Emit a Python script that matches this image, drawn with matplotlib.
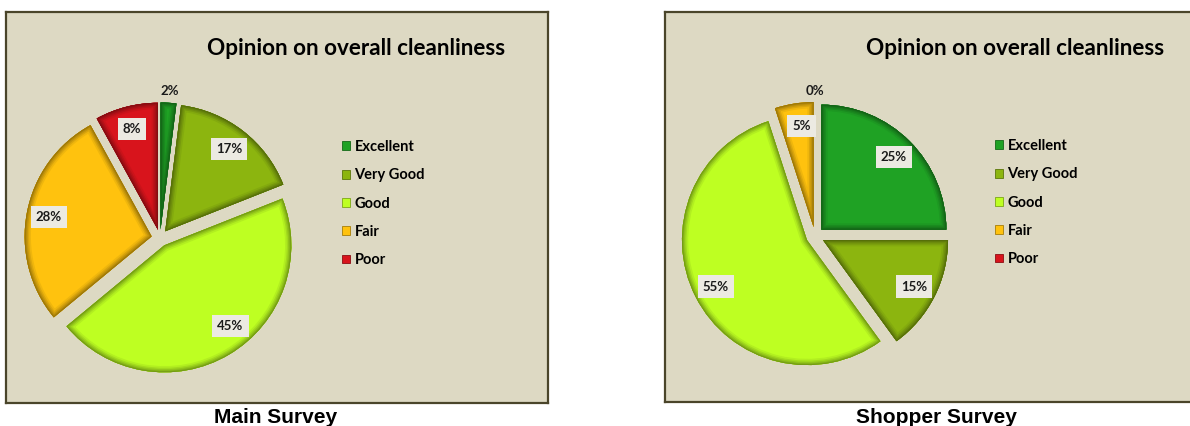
import matplotlib
matplotlib.use("Agg")
import matplotlib.pyplot as plt
from matplotlib.patches import PathPatch, Patch
from matplotlib.colors import to_rgb
import numpy as np

# ---- data ----
categories = ["Excellent", "Very Good", "Good", "Fair", "Poor"]
main_values = [2, 17, 45, 28, 8]
shopper_values = [25, 15, 55, 5, 0]
chart_title = "Opinion on overall cleanliness"
survey_names = ["Main Survey", "Shopper Survey"]

# ---- style ----
colors = ["#1FA224", "#8CB50F", "#BEFF22", "#FFC20E", "#D8141C"]
panel_bg = "#DDD9C3"
border_col = "#4A452A"
label_bg = "#ECEAE2"
title_font = "Lato"

W, H = 1190, 426
fig = plt.figure(figsize=(W / 100, H / 100), dpi=100)
fig.patch.set_facecolor("white")

# panel geometry in figure pixels (left, top, right, bottom)
panels = [
    dict(box=(6, 12, 548, 403), center=(160, 238), radius=127, explode=8.5,
         nudge=[0, 0, -8, 0, 0], legend=(342, 140), caption_x=276),
    dict(box=(665, 12, 1207, 402), center=(815, 236), radius=125, explode=9,
         nudge=[0, 0, 0, 2, 0], legend=(995, 139), caption_x=936),
]


def mix(c1, c2, t):
    a, b = np.array(to_rgb(c1)), np.array(to_rgb(c2))
    return tuple(a * (1 - t) + b * t)


def bevel(ax, wedge, base):
    """Darken the inner rim of a slice to give it a raised look."""
    dark = mix(base, "black", 0.42)
    for lw, t in [(9, 0.15), (6.5, 0.35), (4.5, 0.55), (2.6, 0.75), (1.2, 0.95)]:
        p = PathPatch(wedge.get_path(), fc="none", ec=mix(base, dark, t), lw=lw,
                      joinstyle="round")
        ax.add_patch(p)
        p.set_clip_path(wedge)


def draw_panel(values, name, spec):
    x0, y0, x1, y1 = spec["box"]
    ax = fig.add_axes([x0 / W, 1 - y1 / H, (x1 - x0) / W, (y1 - y0) / H])
    ax.set_facecolor(panel_bg)
    cx, cy = spec["center"]
    r = spec["radius"]
    wedges, _ = ax.pie(values, colors=colors, startangle=90, counterclock=False,
                       radius=r, center=(cx, H - cy), frame=True,
                       explode=[spec["explode"]] * len(values),
                       wedgeprops=dict(linewidth=0))
    ax.set_xlim(x0, x1)
    ax.set_ylim(H - y1, H - y0)
    ax.set_aspect("auto")
    ax.set_xticks([])
    ax.set_yticks([])
    for s in ax.spines.values():
        s.set_color(border_col)
        s.set_linewidth(1.6)

    for w, v, col, nd in zip(wedges, values, colors, spec["nudge"]):
        if v == 0:
            w.set_visible(False)
        else:
            bevel(ax, w, col)
        mid = np.deg2rad((w.theta1 + w.theta2) / 2 - nd)
        outside = v < 3
        frac = 1.16 if outside else 0.89
        tx = cx + frac * r * np.cos(mid)
        ty = (H - cy) + frac * r * np.sin(mid)
        kw = dict(ha="center", va="center", fontsize=9.5, fontweight="bold",
                  family=title_font, color="#1a1a1a")
        if not outside:
            kw["bbox"] = dict(boxstyle="square,pad=0.38", fc=label_bg, ec="none")
        ax.text(tx, ty, f"{v}%", **kw)

    ax.text(x0 + 350, H - 55, chart_title, ha="center", va="baseline",
            family=title_font, fontweight="bold", fontsize=16.2, color="black")

    handles = [Patch(facecolor=c, edgecolor=mix(c, "black", 0.35), linewidth=0.6)
               for c in colors]
    lx, ly = spec["legend"]
    ax.legend(handles, categories, loc="upper left", bbox_to_anchor=(lx, H - ly),
              bbox_transform=ax.transData, frameon=False,
              prop=dict(family=title_font, weight="bold", size=10.5),
              handlelength=0.55, handleheight=0.55, handletextpad=0.3,
              labelspacing=0.98, borderpad=0, borderaxespad=0)

    fig.text(spec["caption_x"] / W, 3 / H, name, ha="center", va="baseline",
             family="Liberation Sans", fontweight="bold", fontsize=15)


draw_panel(main_values, survey_names[0], panels[0])
draw_panel(shopper_values, survey_names[1], panels[1])

fig.savefig("out.png", dpi=100, facecolor="white")
